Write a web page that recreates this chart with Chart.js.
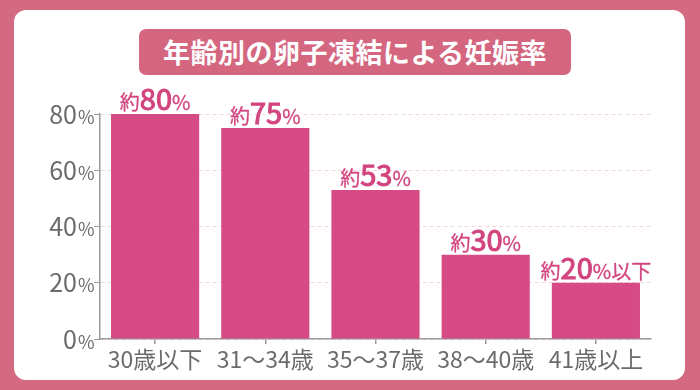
<!DOCTYPE html>
<html lang="ja">
<head>
<meta charset="utf-8">
<title>年齢別の卵子凍結による妊娠率</title>
<script src="https://cdn.jsdelivr.net/npm/chart.js@4"></script>
<style>
  html, body { margin: 0; padding: 0; }
  body {
    width: 700px; height: 390px; position: relative; overflow: hidden;
    background: #d46a81;
    font-family: "Noto Sans CJK JP", "Noto Sans", sans-serif;
  }
  .card {
    position: absolute; left: 14px; top: 10px; width: 671px; height: 370px;
    background: #fff; border-radius: 12px;
  }
  .title {
    position: absolute; left: 139px; top: 29px; width: 432px; height: 46px;
    background: #d4667f; border-radius: 7px;
    color: #fff; font-weight: bold; font-size: 27px; line-height: 46px;
    text-align: center; letter-spacing: 0.5px;
  }
  #chart { position: absolute; left: 0; top: 0; }
</style>
</head>
<body>
<div class="card"></div>
<div class="title">年齢別の卵子凍結による妊娠率</div>
<canvas id="chart" width="700" height="390"></canvas>

<script>
// データ
const categories = ['30歳以下', '31〜34歳', '35〜37歳', '38〜40歳', '41歳以上'];
const rates = [80, 75, 53, 30, 20];
const labelPrefix = ['約', '約', '約', '約', '約'];
const labelSuffix = ['', '', '', '', '以下'];
const yTicks = [0, 20, 40, 60, 80];

const FONT = '"Noto Sans CJK JP", "Noto Sans", sans-serif';
const PINK = '#d2457f';
const GRAY = '#6b6b6b';

const ctx = document.getElementById('chart').getContext('2d');

// 棒の上の「約80%」ラベル
const barLabels = {
  id: 'barLabels',
  afterDatasetsDraw(chart) {
    const c = chart.ctx;
    const bars = chart.getDatasetMeta(0).data;
    c.save();
    c.fillStyle = PINK;
    c.strokeStyle = PINK;
    c.textBaseline = 'alphabetic';
    c.textAlign = 'left';
    bars.forEach((bar, i) => {
      // [テキスト, フォント, 太さ補正]
      const parts = [
        [labelPrefix[i], '20px ' + FONT, 0.3],
        [String(rates[i]), '29px ' + FONT, 1.1],
        ['%', '20px ' + FONT, 0.3],
        [labelSuffix[i], '20px ' + FONT, 0.3]
      ];
      let total = 0;
      parts.forEach(p => { c.font = p[1]; p.push(c.measureText(p[0]).width); total += p[3]; });
      let x = bar.x - total / 2;
      const y = bar.y - 4;
      parts.forEach(p => {
        c.font = p[1];
        c.lineWidth = p[2];
        c.fillText(p[0], x, y);
        c.strokeText(p[0], x, y);
        x += p[3];
      });
    });
    c.restore();
  }
};

// Y軸ラベル（数字と小さい%）
const yLabels = {
  id: 'yLabels',
  afterDraw(chart) {
    const c = chart.ctx;
    const scale = chart.scales.y;
    c.save();
    c.fillStyle = GRAY;
    c.textBaseline = 'alphabetic';
    yTicks.forEach(v => {
      const py = scale.getPixelForValue(v) + 9.5;
      c.font = '25px ' + FONT;
      c.textAlign = 'right';
      c.fillText(String(v), 77, py);
      c.font = '18px ' + FONT;
      c.textAlign = 'left';
      c.fillText('%', 78, py);
    });
    c.restore();
  }
};

new Chart(ctx, {
  type: 'bar',
  data: {
    labels: categories,
    datasets: [{
      data: rates,
      backgroundColor: '#d64b86',
      barPercentage: 0.8,
      categoryPercentage: 1
    }]
  },
  options: {
    responsive: false,
    animation: false,
    layout: { padding: { top: 114, right: 49, bottom: 0, left: 0 } },
    plugins: {
      legend: { display: false },
      tooltip: { enabled: false }
    },
    scales: {
      x: {
        grid: { drawOnChartArea: false, offset: false, tickLength: 5, color: '#9a9a9a', lineWidth: 1.5 },
        border: { color: '#9a9a9a', width: 1.5 },
        ticks: { color: GRAY, font: { family: FONT, size: 23 }, padding: 1, maxRotation: 0 },
        afterFit: (s) => { s.height = 51; }
      },
      y: {
        min: 0,
        max: 80,
        ticks: { stepSize: 20, callback: () => '' },
        grid: { color: '#f4d4de', tickColor: '#9a9a9a', tickLength: 6, lineWidth: 1 },
        border: { color: '#9a9a9a', width: 1.5, dash: [4, 3] },
        afterFit: (s) => { s.width = 100; }
      }
    }
  },
  plugins: [barLabels, yLabels]
});
</script>
</body>
</html>
